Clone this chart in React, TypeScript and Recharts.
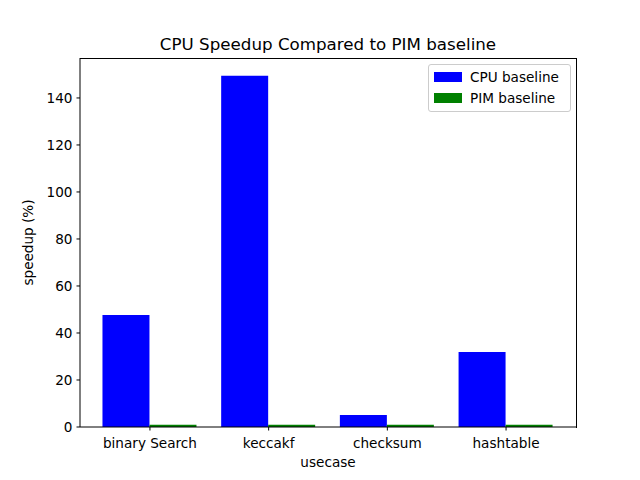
import React from "react";
import { BarChart, Bar, XAxis, YAxis, Label } from "recharts";

const USECASES = ["binary Search", "keccakf", "checksum", "hashtable"];
const CPU_BASELINE = [47.6, 149.4, 5.1, 31.9];
const PIM_BASELINE = [1, 1, 1, 1];
const Y_TICKS = [0, 20, 40, 60, 80, 100, 120, 140];

const FONT = "'DejaVu Sans', sans-serif";

const data = USECASES.map((u, i) => ({
  usecase: u,
  cpu: CPU_BASELINE[i],
  pim: PIM_BASELINE[i],
}));

function LegendBox() {
  const row = (color: string, label: string) => (
    <div style={{ display: "flex", alignItems: "center", height: 21 }}>
      <div style={{ width: 28, height: 10, background: color, marginRight: 8 }} />
      <span style={{ fontSize: 13.6, color: "#000" }}>{label}</span>
    </div>
  );
  return (
    <div
      style={{
        position: "absolute", left: 428, top: 64, width: 131,
        padding: "1px 5px 3px", border: "1px solid #cccccc", borderRadius: 3,
        background: "rgba(255,255,255,0.8)", fontFamily: FONT,
      }}
    >
      {row("#0000ff", "CPU baseline")}
      {row("#008000", "PIM baseline")}
    </div>
  );
}

export default function App() {
  const tick = { fontSize: 13.6, fill: "#000", fontFamily: FONT };
  return (
    <div style={{ position: "absolute", left: 0, top: 0, width: 640, height: 480, background: "#fff" }}>
      <div
        style={{
          position: "absolute", left: 80, width: 496, top: 34, textAlign: "center",
          fontSize: 16.7, fontFamily: FONT, color: "#000",
        }}
      >
        CPU Speedup Compared to PIM baseline
      </div>
      <BarChart
        width={640}
        height={480}
        data={data}
        margin={{ top: 58, right: 64, left: 30, bottom: 23 }}
        barCategoryGap="10%"
        barGap={0}
      >
        <XAxis
          dataKey="usecase"
          tick={tick}
          tickLine={{ stroke: "#000" }}
          tickSize={3.5}
          tickMargin={8}
          axisLine={{ stroke: "#000" }}
          padding={{ left: 10.6, right: 10.6 }}
          height={30}
          interval={0}
        >
          <Label value="usecase" position="insideBottom" offset={-10} style={{ fontSize: 13.6, fill: "#000", fontFamily: FONT }} />
        </XAxis>
        <YAxis
          domain={[0, 157]}
          ticks={Y_TICKS}
          tick={tick}
          tickLine={{ stroke: "#000" }}
          tickSize={3.5}
          tickMargin={4}
          axisLine={{ stroke: "#000" }}
          width={50}
          allowDataOverflow
        >
          <Label value="speedup (%)" angle={-90} position="insideLeft" offset={-2} style={{ fontSize: 13.6, fill: "#000", fontFamily: FONT, textAnchor: "middle" }} />
        </YAxis>
        <Bar dataKey="cpu" fill="#0000ff" isAnimationActive={false} />
        <Bar dataKey="pim" fill="#008000" isAnimationActive={false} />
      </BarChart>
      {/* top/right spines of the axes box */}
      <div
        style={{
          position: "absolute", left: 80, top: 58, width: 496, height: 369,
          borderTop: "1px solid #000", borderRight: "1px solid #000", pointerEvents: "none",
        }}
      />
      <LegendBox />
    </div>
  );
}
